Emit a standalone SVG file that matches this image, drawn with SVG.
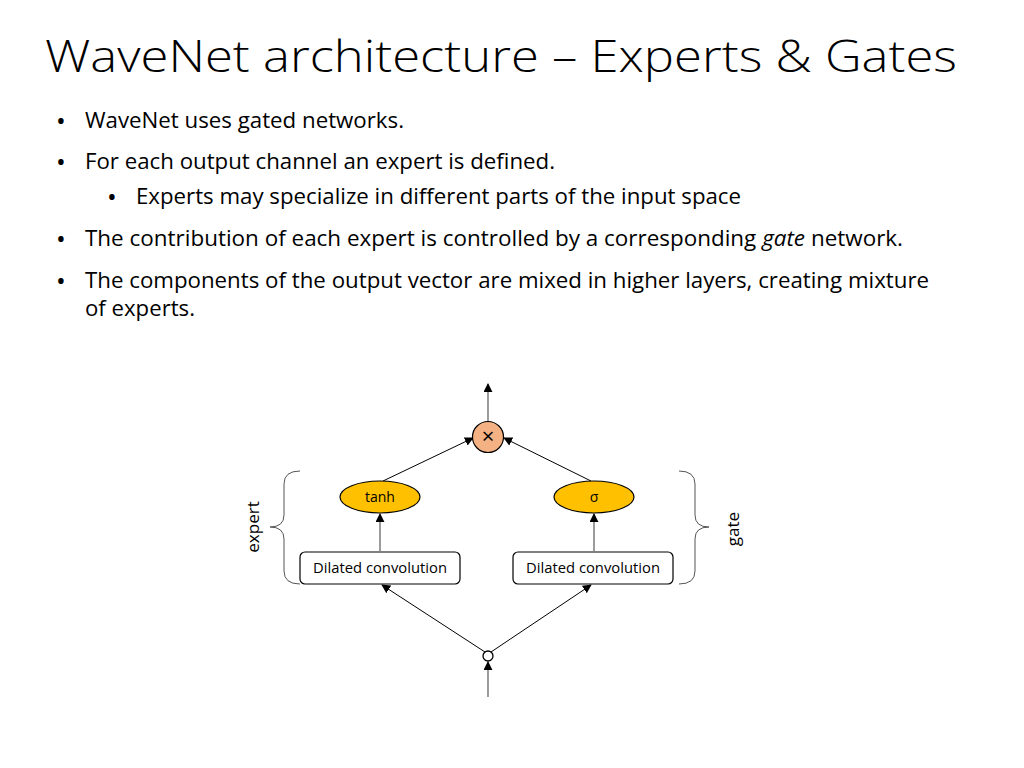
<svg xmlns="http://www.w3.org/2000/svg" width="1024" height="768" viewBox="0 0 1024 768">
<style>
.t{font-family:"Open Sans","Liberation Sans",sans-serif;fill:#000}
.title{font-size:44px;font-weight:300}
.b{font-size:21px}
.dot{font-size:26px}
.lbl{font-size:14px}
.side{font-size:17px}
.ln{stroke:#000;stroke-width:1;fill:none}
.vl{stroke:#666;stroke-width:1.3;fill:none}
.br{stroke:#555;stroke-width:1;fill:none}
</style>
<defs>
<marker id="ah" viewBox="0 0 10 10" refX="9" refY="5" markerWidth="9" markerHeight="9" markerUnits="userSpaceOnUse" orient="auto">
<path d="M0,0 L10,5 L0,10 z" fill="#000"/>
</marker>
</defs>
<rect width="1024" height="768" fill="#fff"/>
<text class="t title" x="45" y="72" textLength="912" lengthAdjust="spacingAndGlyphs">WaveNet architecture – Experts &amp; Gates</text>
<g id="bullets">
<text class="t dot" x="56" y="130">•</text>
<text class="t b" x="85" y="128" textLength="319" lengthAdjust="spacingAndGlyphs">WaveNet uses gated networks.</text>
<text class="t dot" x="56" y="171">•</text>
<text class="t b" x="85" y="169" textLength="470" lengthAdjust="spacingAndGlyphs">For each output channel an expert is defined.</text>
<text class="t dot" x="107" y="206">•</text>
<text class="t b" x="136" y="204" textLength="605" lengthAdjust="spacingAndGlyphs">Experts may specialize in different parts of the input space</text>
<text class="t dot" x="56" y="248">•</text>
<text class="t b" x="85" y="246" textLength="818" lengthAdjust="spacingAndGlyphs">The contribution of each expert is controlled by a corresponding <tspan font-style="italic">gate</tspan> network.</text>
<text class="t dot" x="56" y="290">•</text>
<text class="t b" x="85" y="288" textLength="844" lengthAdjust="spacingAndGlyphs">The components of the output vector are mixed in higher layers, creating mixture</text>
<text class="t b" x="85" y="316" textLength="110" lengthAdjust="spacingAndGlyphs">of experts.</text>
</g>
<g id="connectors">
<line class="vl" x1="488" y1="421" x2="488" y2="384" marker-end="url(#ah)"/>
<line class="ln" x1="383" y1="481" x2="473" y2="438" marker-end="url(#ah)"/>
<line class="ln" x1="591" y1="481" x2="504" y2="438" marker-end="url(#ah)"/>
<line class="vl" x1="380" y1="551" x2="380" y2="514" marker-end="url(#ah)"/>
<line class="vl" x1="594" y1="551" x2="594" y2="514" marker-end="url(#ah)"/>
<line class="ln" x1="485" y1="652" x2="382" y2="585" marker-end="url(#ah)"/>
<line class="ln" x1="491" y1="652" x2="591" y2="585" marker-end="url(#ah)"/>
<line class="vl" x1="488" y1="697" x2="488" y2="662" marker-end="url(#ah)"/>
</g>
<g id="mult">
<circle cx="488" cy="437" r="15.5" fill="#F4B183" stroke="#000" stroke-width="1.2"/>
<text class="t" x="488" y="444" font-size="22" text-anchor="middle">×</text>
</g>
<g id="tanh">
<ellipse cx="380" cy="497" rx="40" ry="16" fill="#FFC000" stroke="#000" stroke-width="1.2"/>
<text class="t lbl" x="380" y="502" text-anchor="middle">tanh</text>
</g>
<g id="sigma">
<ellipse cx="594" cy="497" rx="40" ry="16" fill="#FFC000" stroke="#000" stroke-width="1.2"/>
<text class="t lbl" x="594" y="502" text-anchor="middle">σ</text>
</g>
<g id="conv-left">
<rect x="300" y="552" width="160" height="32" rx="5" fill="#fff" stroke="#000" stroke-width="1.2"/>
<text class="t lbl" x="380" y="573" text-anchor="middle" textLength="134" lengthAdjust="spacingAndGlyphs">Dilated convolution</text>
</g>
<g id="conv-right">
<rect x="513" y="552" width="160" height="32" rx="5" fill="#fff" stroke="#000" stroke-width="1.2"/>
<text class="t lbl" x="593" y="573" text-anchor="middle" textLength="134" lengthAdjust="spacingAndGlyphs">Dilated convolution</text>
</g>
<g id="input">
<circle cx="488" cy="656" r="5" fill="#fff" stroke="#000" stroke-width="1.3"/>
</g>
<g id="expert-brace">
<path class="br" d="M300,471 Q284,471 284,484 L284,515 Q284,527 270,527 Q284,527 284,539 L284,571 Q284,584 300,584"/>
<text class="t side" transform="translate(259,527) rotate(-90)" text-anchor="middle">expert</text>
</g>
<g id="gate-brace">
<path class="br" d="M679,471 Q695,471 695,484 L695,515 Q695,527 709,527 Q695,527 695,539 L695,571 Q695,584 679,584"/>
<text class="t side" transform="translate(739,529) rotate(-90)" text-anchor="middle">gate</text>
</g>
</svg>
